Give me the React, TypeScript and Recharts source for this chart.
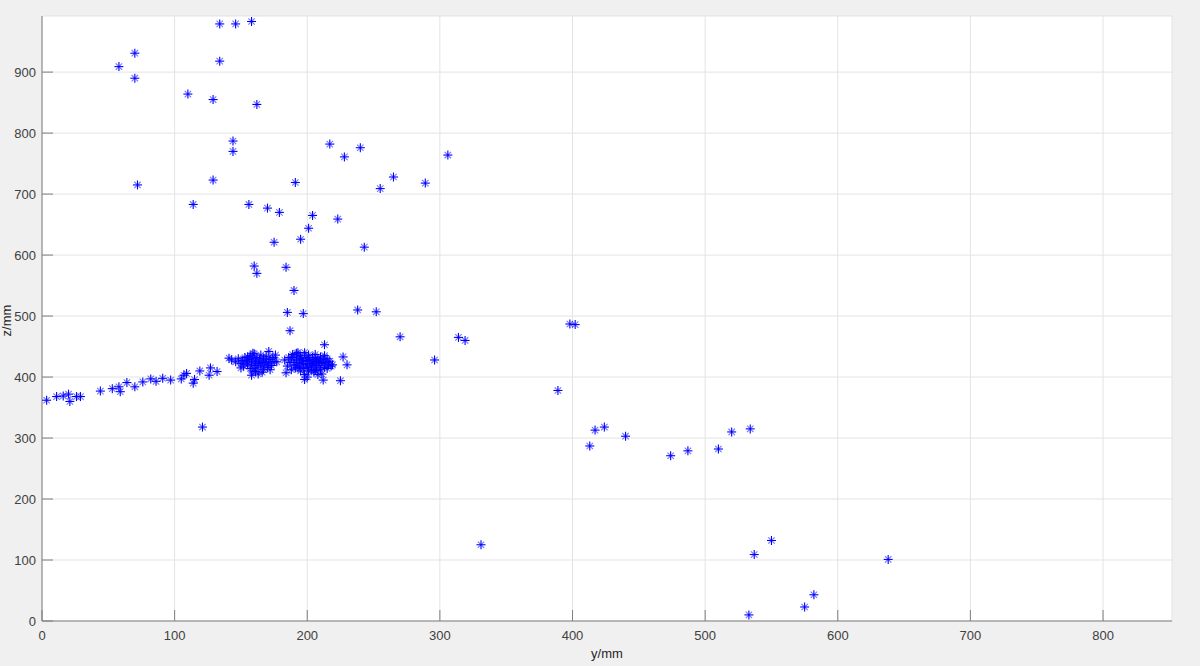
import { CartesianGrid, Scatter, ScatterChart, XAxis, YAxis } from 'recharts'

// [y/mm, z/mm] pairs
const lowTrend = [
  [3.5, 362], [11, 368], [16, 369], [20, 372], [21, 360], [26, 368], [29, 368],
  [44, 377], [53, 381], [58, 384], [59, 376], [64, 391], [70, 384], [76, 392],
  [82, 397], [86, 393], [91, 398], [97, 395], [105, 397], [107, 403], [109, 406],
  [114, 390], [115, 396], [119, 410], [126, 403], [127, 415], [132, 409], [121, 318],
]

const clusterA = [
  [141, 431], [143, 428], [146, 425], [148, 430], [150, 422], [150, 415], [151, 427],
  [152, 418], [153, 432], [154, 425], [155, 420], [155, 433], [156, 428], [157, 414],
  [157, 435], [158, 423], [158, 403], [159, 410], [159, 430], [159, 439], [160, 419],
  [160, 438], [161, 426], [161, 409], [162, 415], [162, 432], [163, 405], [163, 422],
  [164, 428], [165, 418], [165, 436], [166, 424], [166, 408], [167, 412], [167, 430],
  [168, 420], [169, 426], [169, 434], [170, 416], [171, 423], [171, 442], [172, 429],
  [172, 412], [173, 419], [174, 432], [175, 425], [176, 436], [177, 425],
]

const clusterB = [
  [183, 428], [184, 407], [185, 418], [186, 432], [187, 424], [188, 412], [188, 432],
  [189, 437], [190, 420], [190, 428], [191, 415], [192, 433], [192, 424], [192, 439],
  [193, 440], [193, 415], [194, 418], [194, 428], [195, 410], [195, 435], [196, 422],
  [196, 430], [197, 414], [197, 426], [198, 396], [198, 440], [198, 404], [199, 420],
  [199, 432], [200, 416], [200, 427], [200, 400], [201, 410], [201, 436], [202, 422],
  [202, 429], [203, 418], [203, 412], [204, 432], [204, 425], [205, 408], [205, 420],
  [206, 428], [206, 437], [206, 411], [207, 415], [207, 424], [208, 430], [208, 404],
  [209, 419], [209, 426], [210, 412], [210, 433], [211, 422], [211, 405], [212, 395],
  [212, 428], [213, 453], [213, 435], [213, 416], [214, 424], [215, 414], [215, 430],
  [216, 420], [217, 426], [218, 418], [219, 420], [225, 394], [227, 433], [230, 420],
]

const upperPoints = [
  [58, 909], [70, 931], [70, 890], [72, 715], [110, 864], [114, 683], [129, 855],
  [129, 723], [134, 918], [134, 979], [144, 787], [144, 770], [146, 979], [156, 683],
  [158, 983], [160, 582], [162, 847], [162, 570], [170, 677], [175, 621], [179, 670],
  [184, 580], [185, 506], [187, 476], [190, 542], [191, 719], [195, 626], [197, 504],
  [201, 644], [204, 665], [217, 782], [223, 659], [228, 761], [238, 510], [240, 776],
  [243, 613], [252, 507], [255, 709], [265, 728], [270, 466], [289, 718], [296, 428],
  [306, 764], [314, 465], [319, 460],
]

const farPoints = [
  [331, 125], [389, 378], [398, 487], [402, 486], [413, 287], [417, 313], [424, 318],
  [440, 303], [474, 271], [487, 279], [510, 282], [520, 310], [533, 10], [534, 315],
  [537, 109], [550, 132], [575, 23], [582, 43], [638, 101],
]

const xTicks = [0, 100, 200, 300, 400, 500, 600, 700, 800]
const yTicks = [0, 100, 200, 300, 400, 500, 600, 700, 800, 900]

const points = [...lowTrend, ...clusterA, ...clusterB, ...upperPoints, ...farPoints].map(
  ([y, z]) => ({ y, z })
)

function Star(props: any) {
  const { cx, cy } = props
  if (cx == null || cy == null) return null
  const r = 4.5
  const d = 3.2
  return (
    <g stroke='#0000ff' strokeWidth={1.1}>
      <line x1={cx - r} y1={cy} x2={cx + r} y2={cy} />
      <line x1={cx} y1={cy - r} x2={cx} y2={cy + r} />
      <line x1={cx - d} y1={cy - d} x2={cx + d} y2={cy + d} strokeOpacity={0.55} />
      <line x1={cx - d} y1={cy + d} x2={cx + d} y2={cy - d} strokeOpacity={0.55} />
    </g>
  )
}

const tickStyle = { fill: '#404040', fontSize: 13, fontFamily: 'Liberation Sans, Arial, sans-serif' }

export default function App() {
  return (
    <div
      style={{
        position: 'absolute',
        left: 0,
        top: 0,
        width: 1200,
        height: 666,
        background: '#f0f0f0',
        fontFamily: 'Liberation Sans, Arial, sans-serif',
      }}
    >
      <ScatterChart width={1200} height={666} margin={{ top: 16, right: 28, left: 0, bottom: 0 }}>
        <CartesianGrid stroke='#e3e3e3' fill='#ffffff' />
        <XAxis
          type='number'
          dataKey='y'
          domain={[0, 852]}
          ticks={xTicks}
          height={45}
          stroke='#7f7f7f'
          tick={tickStyle}
          tickSize={-11}
          tickMargin={21}
          allowDataOverflow
        />
        <YAxis
          type='number'
          dataKey='z'
          domain={[0, 992]}
          ticks={yTicks}
          width={42}
          stroke='#7f7f7f'
          tick={tickStyle}
          tickSize={-11}
          tickMargin={17}
          allowDataOverflow
        />
        <Scatter data={points} shape={Star} isAnimationActive={false} />
      </ScatterChart>
      <div
        style={{
          position: 'absolute',
          left: 0,
          width: 1214,
          top: 646,
          textAlign: 'center',
          fontSize: 13,
          color: '#262626',
        }}
      >
        y/mm
      </div>
      <div
        style={{
          position: 'absolute',
          left: -22,
          top: 313,
          width: 56,
          textAlign: 'center',
          fontSize: 13,
          color: '#262626',
          transform: 'rotate(-90deg)',
        }}
      >
        z/mm
      </div>
    </div>
  )
}
